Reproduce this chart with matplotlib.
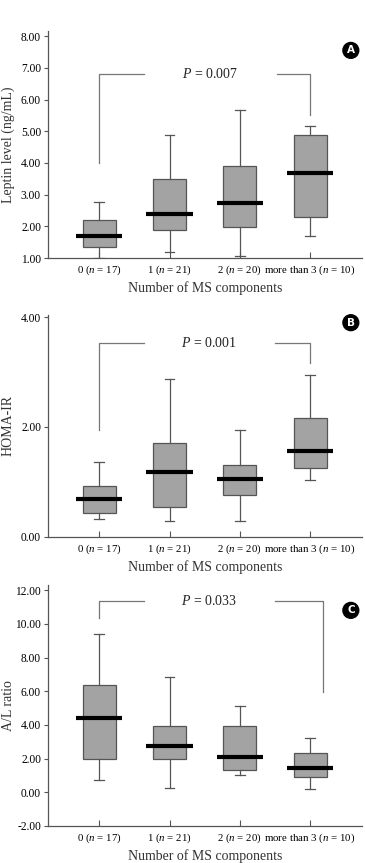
import matplotlib
matplotlib.use("Agg")
import matplotlib.pyplot as plt

plt.rcParams['font.family'] = ['Liberation Serif', 'DejaVu Serif']
plt.rcParams['mathtext.fontset'] = 'custom'
plt.rcParams['mathtext.rm'] = 'Liberation Serif'
plt.rcParams['mathtext.it'] = 'Liberation Serif:italic'

# categories
groups = [r'0 ($n$ = 17)', r'1 ($n$ = 21)', r'2 ($n$ = 20)', r'more than 3 ($n$ = 10)']

# panel A: leptin level (ng/mL)
lep_lo = [1.00, 1.18, 1.08, 1.68]
lep_q1 = [1.35, 1.87, 1.97, 2.28]
lep_med = [1.68, 2.38, 2.73, 3.68]
lep_q3 = [2.20, 3.50, 3.90, 4.88]
lep_hi = [2.78, 4.88, 5.68, 5.18]

# panel B: HOMA-IR
homa_lo = [0.33, 0.28, 0.28, 1.03]
homa_q1 = [0.44, 0.55, 0.77, 1.25]
homa_med = [0.69, 1.18, 1.05, 1.56]
homa_q3 = [0.93, 1.71, 1.31, 2.17]
homa_hi = [1.36, 2.87, 1.95, 2.95]

# panel C: A/L ratio
al_lo = [0.73, 0.28, 1.00, 0.18]
al_q1 = [1.98, 1.98, 1.29, 0.89]
al_med = [4.40, 2.77, 2.12, 1.43]
al_q3 = [6.38, 3.96, 3.96, 2.34]
al_hi = [9.40, 6.87, 5.11, 3.23]

p_texts = [r'$P$ = 0.007', r'$P$ = 0.001', r'$P$ = 0.033']

edge = '#555555'


def panel(ax, lo, q1, med, q3, hi, ylim, yticks, ylabel, ptext, brk, letter, lety):
    stats = []
    for i in range(len(groups)):
        stats.append(dict(whislo=lo[i], q1=q1[i], med=med[i], q3=q3[i], whishi=hi[i]))
    pos = list(range(len(groups)))
    ax.bxp(stats, positions=pos, widths=0.47, showfliers=False, patch_artist=True,
           capwidths=0.14,
           boxprops=dict(facecolor='#a3a3a3', edgecolor=edge, linewidth=0.9),
           whiskerprops=dict(color=edge, linewidth=0.9),
           capprops=dict(color=edge, linewidth=0.9),
           medianprops=dict(linewidth=0))
    ax.hlines(med, [p - 0.33 for p in pos], [p + 0.33 for p in pos], color='black', linewidth=3.0, zorder=5)

    ax.set_xlim(-0.73, 3.74)
    ax.set_ylim(*ylim)
    ax.set_yticks(yticks)
    ax.set_yticklabels(['%.2f' % t for t in yticks])
    ax.set_xticks(pos)
    ax.set_xticklabels(groups)
    ax.tick_params(axis='x', direction='in', length=4, color=edge, labelsize=7.8, pad=4)
    ax.tick_params(axis='y', direction='out', length=3, color=edge, labelsize=8.3, pad=2)
    for s in ['top', 'right']:
        ax.spines[s].set_visible(False)
    for s in ['left', 'bottom']:
        ax.spines[s].set_color(edge)
        ax.spines[s].set_linewidth(0.9)
    ax.set_ylabel(ylabel, fontsize=10, color='#333333')
    ax.yaxis.set_label_coords(-0.105, 0.5)
    ax.set_xlabel('Number of MS components', fontsize=10, color='#333333', labelpad=3)

    # significance bracket
    x0, y0, yb, x1, y1, g0, g1 = brk
    bc = '#777777'
    ax.plot([x0, x0, g0], [y0, yb, yb], color=bc, linewidth=0.9)
    ax.plot([g1, x1, x1], [yb, yb, y1], color=bc, linewidth=0.9)
    ax.text((g0 + g1) / 2, yb, ptext, ha='center', va='center', fontsize=10, color='#222222')

    ax.text(3.58, lety, letter, ha='center', va='center', fontsize=7.5, fontweight='bold',
            color='white', family='DejaVu Sans',
            bbox=dict(boxstyle='circle,pad=0.28', facecolor='black', edgecolor='black'))


fig = plt.figure(figsize=(3.65, 8.63), dpi=100)
axA = fig.add_axes([0.1315, 0.701, 0.8605, 0.263])
axB = fig.add_axes([0.1315, 0.378, 0.8605, 0.257])
axC = fig.add_axes([0.1315, 0.043, 0.8605, 0.279])

panel(axA, lep_lo, lep_q1, lep_med, lep_q3, lep_hi, (1.0, 8.16),
      [1, 2, 3, 4, 5, 6, 7, 8], 'Leptin level (ng/mL)', p_texts[0],
      (0, 4.0, 6.8, 3, 5.5, 0.63, 2.53), 'A', 7.55)
panel(axB, homa_lo, homa_q1, homa_med, homa_q3, homa_hi, (0.0, 4.04),
      [0, 2, 4], 'HOMA-IR', p_texts[1],
      (0, 1.94, 3.53, 3, 3.16, 0.63, 2.5), 'B', 3.9)
panel(axC, al_lo, al_q1, al_med, al_q3, al_hi, (-2.0, 12.3),
      [-2, 0, 2, 4, 6, 8, 10, 12], 'A/L ratio', p_texts[2],
      (0, 10.34, 11.35, 3.18, 5.94, 0.63, 2.5), 'C', 10.8)

fig.savefig('out.png', dpi=100)
